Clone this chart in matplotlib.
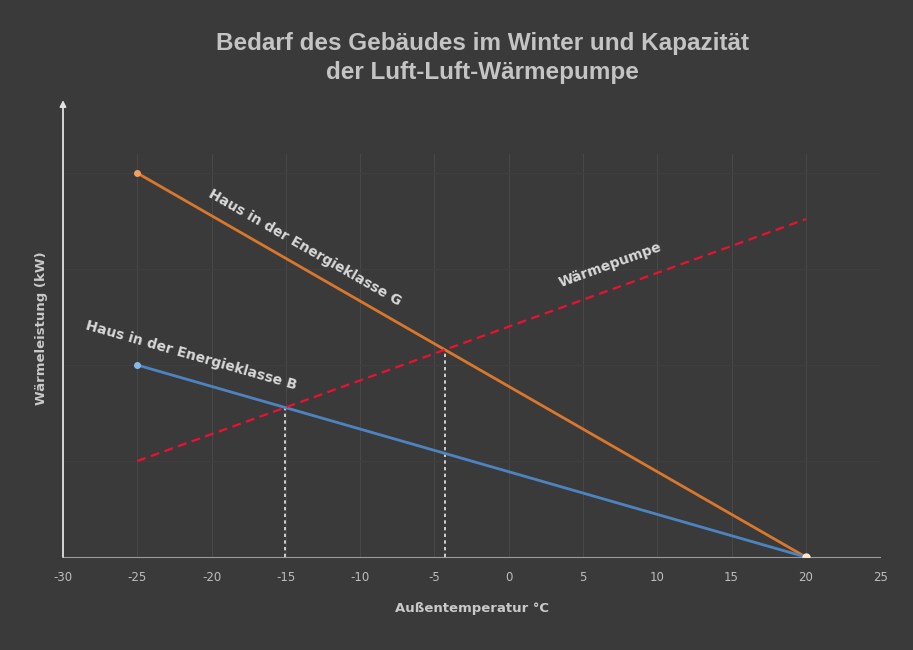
import numpy as np
import matplotlib.pyplot as plt

plt.rcParams["axes.unicode_minus"] = False

# temperatures (°C) at the two ends of each line
temps = [-25, 20]
# heat demand / capacity (kW)
klasse_g = [10.0, 0.0]
klasse_b = [5.0, 0.0]
waermepumpe = [2.5, 8.8]
xticks = [-30, -25, -20, -15, -10, -5, 0, 5, 10, 15, 20, 25]

bg = "#3a3a3a"
txt = "#c9c9c9"

fig = plt.figure(figsize=(9.13, 6.5), dpi=100, facecolor=bg)
ax = fig.add_axes([0.069, 0.143, 0.895, 0.703], facecolor=bg)
ax.set_xlim(-30, 25)
ax.set_ylim(0, 11.9)

# faint grid
for x in xticks[1:]:
    ax.plot([x, x], [0, 10.5], color="#484848", lw=0.8, zorder=0)
for y in [2.5, 5.0, 7.5, 10.0]:
    ax.plot([-30, 25], [y, y], color="#3f3f3f", lw=0.8, zorder=0)

# lines
ax.plot(temps, klasse_g, color="#d9782c", lw=2, zorder=3)
ax.plot(temps, klasse_b, color="#4d84bf", lw=2, zorder=3)
ax.plot(temps, waermepumpe, color="#ee1030", lw=1.6, ls=(0, (4, 2.5)), zorder=4)
ax.plot(temps[0], klasse_g[0], "o", color="#f0a060", ms=4, zorder=5)
ax.plot(temps[0], klasse_b[0], "o", color="#8ab8e8", ms=4, zorder=5)
ax.plot(temps[1], klasse_g[1], "o", color="#ffe8d0", ms=5, zorder=5)


def cross(a, b):
    # intersection of two straight lines given by end points
    sa = (a[1] - a[0]) / (temps[1] - temps[0])
    sb = (b[1] - b[0]) / (temps[1] - temps[0])
    x = temps[0] + (b[0] - a[0]) / (sa - sb)
    return x, a[0] + sa * (x - temps[0])


for line in (klasse_g, klasse_b):
    xi, yi = cross(line, waermepumpe)
    ax.plot([xi, xi], [0, yi], color="#e8e8e8", lw=1.2, ls=(0, (2, 2)), zorder=2)


def angle(vals):
    p = ax.transData.transform(np.column_stack([temps, vals]))
    return np.degrees(np.arctan2(p[1, 1] - p[0, 1], p[1, 0] - p[0, 0]))


lab = dict(color="#d8d8d8", fontsize=10, fontweight="semibold", ha="center",
           va="center", rotation_mode="anchor", zorder=6)
ax.text(-13.7, 8.05, "Haus in der Energieklasse G", rotation=angle(klasse_g), **lab)
ax.text(-21.4, 5.25, "Haus in der Energieklasse B", rotation=angle(klasse_b), **lab)
ax.text(6.8, 7.6, "Wärmepumpe", rotation=angle(waermepumpe), **lab)

# axes
for s in ("top", "right", "left"):
    ax.spines[s].set_visible(False)
ax.spines["bottom"].set_color("#9a9a9a")
ax.annotate("", xy=(-30, 11.9), xytext=(-30, 0),
            arrowprops=dict(arrowstyle="-|>", color="#e0e0e0", lw=1.3,
                            mutation_scale=9, shrinkA=0, shrinkB=0))
ax.set_xticks(xticks)
ax.set_yticks([])
ax.tick_params(axis="x", length=0, colors="#bdbdbd", labelsize=8.5, pad=10)
for t in ax.get_xticklabels():
    t.set_fontfamily("Liberation Sans Narrow")

ax.set_xlabel("Außentemperatur °C", color=txt, fontsize=9.5, fontweight="bold", labelpad=13)
ax.set_ylabel("Wärmeleistung (kW)", color=txt, fontsize=9.5, fontweight="bold", labelpad=11)

fig.text(0.528, 0.911, "Bedarf des Gebäudes im Winter und Kapazität\nder Luft-Luft-Wärmepumpe",
         ha="center", va="center", color="#c4c4c4", fontsize=17.5, fontweight="bold",
         family="Liberation Sans", linespacing=1.3)

fig.savefig("out.png", dpi=100, facecolor=bg)
